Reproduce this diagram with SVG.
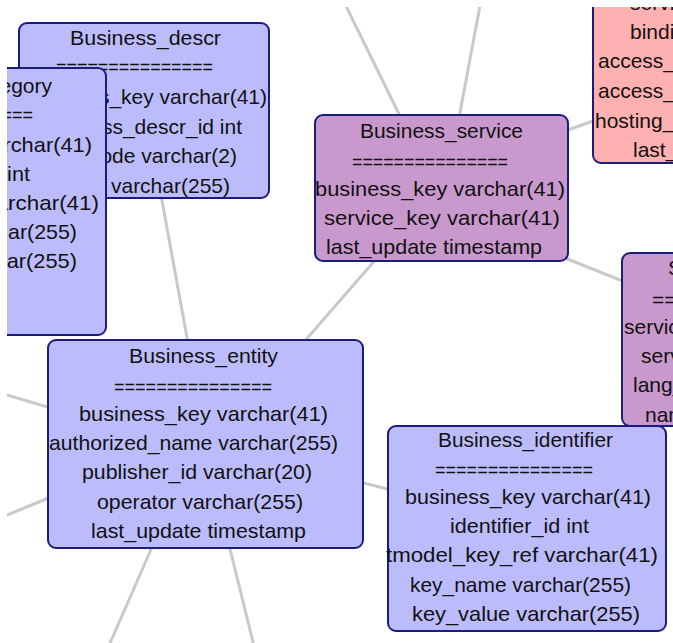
<svg xmlns="http://www.w3.org/2000/svg" width="673" height="643" viewBox="0 0 673 643">
  <style>
    .box { stroke: #1c1c80; stroke-width: 2; }
    .blue { fill: #bcbcfd; }
    .purple { fill: #c999cd; }
    .pink { fill: #ffb0b0; }
    text { font-family: "Liberation Sans", Arial, sans-serif; font-size: 21px; fill: #111; }
    .e { stroke: #c9c9c9; stroke-width: 3; fill: none; }
  </style>
  <defs>
    <clipPath id="frame"><rect x="7" y="7" width="666" height="636"/></clipPath>
  </defs>
  <rect width="673" height="643" fill="#ffffff"/>
  <g clip-path="url(#frame)">
    <!-- relationship lines between tables -->
    <g id="connectors">
      <line class="e" x1="343" y1="0" x2="401" y2="118"/>
      <line class="e" x1="481" y1="0" x2="459" y2="118"/>
      <line class="e" x1="565" y1="131" x2="596" y2="120"/>
      <line class="e" x1="565" y1="258" x2="625" y2="282"/>
      <line class="e" x1="377" y1="258" x2="303" y2="343"/>
      <line class="e" x1="161" y1="195" x2="188" y2="343"/>
      <line class="e" x1="0" y1="393" x2="51" y2="408"/>
      <line class="e" x1="0" y1="518" x2="51" y2="497"/>
      <line class="e" x1="153" y1="545" x2="107" y2="650"/>
      <line class="e" x1="229" y1="545" x2="255" y2="650"/>
      <line class="e" x1="360" y1="482" x2="391" y2="490"/>
    </g>

    <g id="binding_template">
      <rect class="box pink" x="593" y="-80" width="120" height="243" rx="8"/>
      <text x="630" y="10">service_key varchar(41)</text>
      <text x="630" y="39">binding_key varchar(41)</text>
      <text x="598" y="68">access_point_type varchar(20)</text>
      <text x="598" y="98">access_point_url varchar(255)</text>
      <text x="595" y="128">hosting_redirector varchar(41)</text>
      <text x="633" y="157">last_update timestamp</text>
    </g>

    <g id="service_name">
      <rect class="box purple" x="622" y="253" width="100" height="173" rx="8"/>
      <text x="668" y="275">Service_name</text>
      <text x="652" y="307">===============</text>
      <text x="624" y="334">service_key varchar(41)</text>
      <text x="641" y="363">service_name_id int</text>
      <text x="633" y="392">lang_code varchar(5)</text>
      <text x="645" y="422">name varchar(255)</text>
    </g>

    <g id="business_descr">
      <rect class="box blue" x="19" y="23" width="250" height="175" rx="8"/>
      <text x="70" y="45" textLength="151" lengthAdjust="spacingAndGlyphs">Business_descr</text>
      <text x="56" y="74" textLength="157" lengthAdjust="spacingAndGlyphs">===============</text>
      <text x="267" y="104" text-anchor="end">business_key varchar(41)</text>
      <text x="242" y="134" text-anchor="end">business_descr_id int</text>
      <text x="237" y="163" text-anchor="end">lang_code varchar(2)</text>
      <text x="230" y="193" text-anchor="end">description varchar(255)</text>
    </g>

    <g id="business_category">
      <rect class="box blue" x="-180" y="68" width="286" height="267" rx="8"/>
      <text x="52" y="93" text-anchor="end">Business_category</text>
      <text x="33" y="122" text-anchor="end" textLength="157" lengthAdjust="spacingAndGlyphs">===============</text>
      <text x="92" y="152" text-anchor="end" textLength="250" lengthAdjust="spacingAndGlyphs">business_key varchar(41)</text>
      <text x="30" y="181" text-anchor="end" textLength="141" lengthAdjust="spacingAndGlyphs">category_id int</text>
      <text x="99" y="210" text-anchor="end" textLength="274" lengthAdjust="spacingAndGlyphs">tmodel_key_ref varchar(41)</text>
      <text x="77" y="239" text-anchor="end" textLength="226" lengthAdjust="spacingAndGlyphs">key_name varchar(255)</text>
      <text x="77" y="268" text-anchor="end" textLength="228" lengthAdjust="spacingAndGlyphs">key_value varchar(255)</text>
    </g>

    <g id="business_service">
      <rect class="box purple" x="315" y="115" width="253" height="146" rx="8"/>
      <text x="360" y="138" textLength="163" lengthAdjust="spacingAndGlyphs">Business_service</text>
      <text x="352" y="169" textLength="156" lengthAdjust="spacingAndGlyphs">===============</text>
      <text x="315" y="196" textLength="250" lengthAdjust="spacingAndGlyphs">business_key varchar(41)</text>
      <text x="324" y="225" textLength="236" lengthAdjust="spacingAndGlyphs">service_key varchar(41)</text>
      <text x="326" y="254" textLength="216" lengthAdjust="spacingAndGlyphs">last_update timestamp</text>
    </g>

    <g id="business_entity">
      <rect class="box blue" x="48" y="340" width="315" height="208" rx="8"/>
      <text x="129" y="363" textLength="149" lengthAdjust="spacingAndGlyphs">Business_entity</text>
      <text x="114" y="394" textLength="158" lengthAdjust="spacingAndGlyphs">===============</text>
      <text x="79" y="421" textLength="249" lengthAdjust="spacingAndGlyphs">business_key varchar(41)</text>
      <text x="49" y="450" textLength="289" lengthAdjust="spacingAndGlyphs">authorized_name varchar(255)</text>
      <text x="82" y="479" textLength="230" lengthAdjust="spacingAndGlyphs">publisher_id varchar(20)</text>
      <text x="97" y="509" textLength="206" lengthAdjust="spacingAndGlyphs">operator varchar(255)</text>
      <text x="91" y="538" textLength="215" lengthAdjust="spacingAndGlyphs">last_update timestamp</text>
    </g>

    <g id="business_identifier">
      <rect class="box blue" x="388" y="426" width="278" height="205" rx="8"/>
      <text x="438" y="447" textLength="175" lengthAdjust="spacingAndGlyphs">Business_identifier</text>
      <text x="435" y="477" textLength="158" lengthAdjust="spacingAndGlyphs">===============</text>
      <text x="405" y="504" textLength="246" lengthAdjust="spacingAndGlyphs">business_key varchar(41)</text>
      <text x="450" y="533" textLength="139" lengthAdjust="spacingAndGlyphs">identifier_id int</text>
      <text x="386" y="562" textLength="272" lengthAdjust="spacingAndGlyphs">tmodel_key_ref varchar(41)</text>
      <text x="410" y="592" textLength="221" lengthAdjust="spacingAndGlyphs">key_name varchar(255)</text>
      <text x="412" y="621" textLength="228" lengthAdjust="spacingAndGlyphs">key_value varchar(255)</text>
    </g>
  </g>
</svg>
